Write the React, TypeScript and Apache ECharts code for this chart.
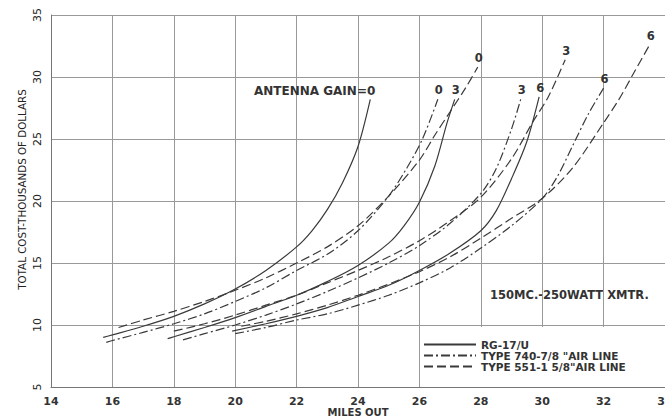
import React, { useEffect, useRef } from "react";
import * as echarts from "echarts";

const cableNames = ["RG-17/U", "TYPE 740-7/8 \"AIR LINE", "TYPE 551-1 5/8\"AIR LINE"];
const gainLabels = ["0", "3", "6"];

const rg17Gain0 = [[15.7, 9.0], [16, 9.2], [17, 9.9], [18, 10.7], [19, 11.7], [20, 12.9], [21, 14.4], [22, 16.3], [22.5, 17.6], [23, 19.3], [23.5, 21.5], [24, 24.4], [24.4, 28.2]];
const rg17Gain3 = [[17.8, 8.9], [18, 9.05], [19, 9.8], [20, 10.6], [21, 11.5], [22, 12.4], [23, 13.5], [24, 14.8], [25, 16.6], [25.5, 18.0], [26, 19.9], [26.5, 22.8], [26.9, 26.3], [27.15, 28.2]];
const rg17Gain6 = [[19.9, 9.5], [21, 10.1], [22, 10.7], [23, 11.4], [24, 12.3], [25, 13.2], [26, 14.4], [27, 15.8], [28, 17.6], [28.5, 19.2], [29, 21.8], [29.5, 24.8], [29.9, 28.4]];
const air78Gain0 = [[15.8, 8.6], [16, 8.75], [17, 9.4], [18, 10.1], [19, 10.9], [20, 11.9], [21, 13.0], [22, 14.4], [23, 15.7], [24, 17.6], [25, 20.4], [25.6, 22.7], [26.1, 25.0], [26.6, 28.2]];
const air78Gain3 = [[18.3, 8.8], [19, 9.3], [20, 10.0], [21, 10.8], [22, 11.7], [23, 12.7], [24, 13.8], [25, 15.0], [26, 16.4], [27, 18.2], [28, 20.6], [28.5, 22.6], [29, 25.8], [29.3, 28.2]];
const air78Gain6 = [[20, 9.3], [21, 9.8], [22, 10.4], [23, 10.9], [24, 11.6], [25, 12.4], [26, 13.4], [27, 14.6], [28, 16.2], [29, 18.0], [30, 20.2], [30.5, 22.0], [31, 24.5], [31.5, 27.0], [32, 29.1]];
const air158Gain0 = [[16.2, 9.8], [17, 10.4], [18, 11.1], [19, 11.9], [20, 12.8], [21, 13.8], [22, 15.0], [23, 16.3], [24, 18.0], [25, 20.4], [26, 23.3], [26.5, 25.3], [27, 27.2], [27.5, 29.1], [27.9, 30.8]];
const air158Gain3 = [[18.0, 9.5], [19, 10.1], [20, 10.8], [21, 11.6], [22, 12.4], [23, 13.4], [24, 14.4], [25, 15.5], [26, 16.8], [27, 18.4], [28, 20.3], [29, 23.4], [29.7, 26.4], [30.2, 28.4], [30.75, 31.4]];
const air158Gain6 = [[20.2, 9.9], [21, 10.3], [22, 10.9], [23, 11.6], [24, 12.4], [25, 13.3], [26, 14.3], [27, 15.5], [28, 17.0], [29, 18.6], [30, 20.2], [31, 22.7], [32, 26.3], [32.5, 28.2], [33, 30.4], [33.5, 32.6]];

const curves = [
  { cable: 0, gain: 0, data: rg17Gain0 },
  { cable: 0, gain: 1, data: rg17Gain3 },
  { cable: 0, gain: 2, data: rg17Gain6 },
  { cable: 1, gain: 0, data: air78Gain0 },
  { cable: 1, gain: 1, data: air78Gain3 },
  { cable: 1, gain: 2, data: air78Gain6 },
  { cable: 2, gain: 0, data: air158Gain0 },
  { cable: 2, gain: 1, data: air158Gain3 },
  { cable: 2, gain: 2, data: air158Gain6 },
];

const FONT = "DejaVu Sans";
const INK = "#3a3a3a";
const dashTypes: any[] = ["solid", [9, 3, 2, 3], [9, 4]];

export default function App() {
  const ref = useRef<HTMLDivElement>(null);
  useEffect(() => {
    const chart = echarts.init(ref.current!, null, { renderer: "svg" });
    const series = curves.map((c) => {
      const isFirst = c.cable === 0 && c.gain === 0;
      return {
        type: "line",
        name: cableNames[c.cable],
        data: c.data,
        showSymbol: false,
        symbol: "none",
        smooth: 0.3,
        lineStyle: { color: INK, width: 1.2, type: dashTypes[c.cable] },
        itemStyle: { color: INK },
        emphasis: { disabled: true },
        endLabel: {
          show: true,
          distance: 0,
          formatter: isFirst ? "ANTENNA GAIN=" + gainLabels[c.gain] : gainLabels[c.gain],
          align: isFirst ? "right" : "center",
          verticalAlign: "bottom",
          offset: isFirst ? [5, -2] : [1, -3],
          fontFamily: FONT,
          fontWeight: "bold",
          fontSize: isFirst ? 12 : 11.5,
          color: "#333",
        },
      };
    });
    chart.setOption({
      animation: false,
      backgroundColor: "#fff",
      grid: { left: 51, right: 0, top: 15, bottom: 29, outerBoundsMode: "none", containLabel: false },
      xAxis: {
        type: "value",
        min: 14,
        max: 34,
        interval: 2,
        name: "MILES OUT",
        nameLocation: "middle",
        nameGap: 20,
        nameMoveOverlap: false,
        nameTextStyle: { fontFamily: FONT, fontWeight: "bold", fontSize: 10, color: "#333" },
        axisLine: { show: true, lineStyle: { color: "#777", width: 1 } },
        axisTick: { show: false },
        axisLabel: { margin: 9, fontFamily: FONT, fontWeight: "bold", fontSize: 11, color: "#333", alignMaxLabel: "center" },
        splitLine: { show: true, lineStyle: { color: "#999", width: 1 } },
      },
      yAxis: {
        type: "value",
        min: 5,
        max: 35,
        interval: 5,
        name: "TOTAL COST-THOUSANDS OF DOLLARS",
        nameLocation: "middle",
        nameRotate: 90,
        nameGap: 24,
        nameMoveOverlap: false,
        nameTextStyle: { fontFamily: FONT, fontSize: 10.3, color: "#222", padding: [0, 0, 0, 23] },
        axisLine: { show: true, lineStyle: { color: "#777", width: 1 } },
        axisTick: { show: false },
        axisLabel: { rotate: 90, margin: 8, fontFamily: FONT, fontSize: 11, color: "#222" },
        splitLine: { show: true, lineStyle: { color: "#999", width: 1 } },
      },
      legend: {
        orient: "vertical",
        left: 423,
        top: 327,
        data: cableNames,
        itemWidth: 52,
        itemHeight: 10,
        itemGap: 0,
        padding: [12, 30, 15, 0],
        backgroundColor: "#fff",
        selectedMode: false,
        itemStyle: { opacity: 0 },
        textStyle: { fontFamily: FONT, fontWeight: "bold", fontSize: 10.5, lineHeight: 11, color: "#333" },
      },
      graphic: [
        {
          type: "text",
          left: 490,
          top: 289,
          style: { text: "150MC.-250WATT XMTR.", font: "bold 11.5px DejaVu Sans", fill: "#333" },
        },
      ],
      series,
    });
    return () => chart.dispose();
  }, []);
  return <div ref={ref} style={{ position: "fixed", left: 0, top: 0, width: 665, height: 416 }} />;
}
